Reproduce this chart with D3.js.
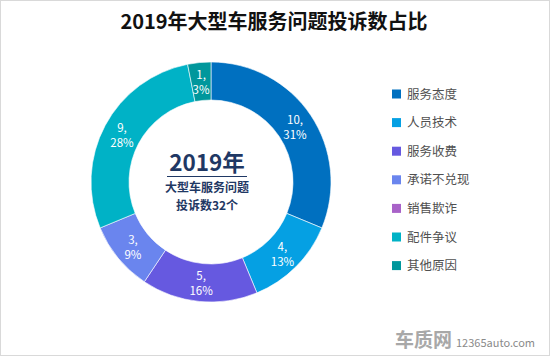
<!DOCTYPE html>
<html><head><meta charset="utf-8">
<script src="https://cdn.jsdelivr.net/npm/d3@7"></script>
<style>
html,body{margin:0;padding:0;background:#fff;}
svg{display:block;font-family:"Microsoft YaHei","Noto Sans CJK SC",sans-serif;}
</style></head><body>
<svg id="c" width="550" height="356"></svg>
<script>
const categories = ["服务态度","人员技术","服务收费","承诺不兑现","销售欺诈","配件争议","其他原因"];
const values = [10,4,5,3,0,9,1];
const percents = ["31%","13%","16%","9%","0%","28%","3%"];
const colors = ["#0070C0","#05A0E3","#6659E0","#6A85EE","#A862C8","#00B2C6","#00979C"];
const title = "2019年大型车服务问题投诉数占比";
const centerLines = ["2019年","大型车服务问题","投诉数32个"];

const svg = d3.select("#c");
svg.append("rect").attr("x",0.5).attr("y",0.5).attr("width",549).attr("height",355)
  .attr("fill","#fff").attr("stroke","#D9D9D9");

svg.append("text").attr("x",274).attr("y",29).attr("text-anchor","middle")
  .attr("font-size",20).attr("font-weight","bold").attr("fill","#111").text(title);

const cx = 211, cy = 182, R = 120, r = 82;
const g = svg.append("g").attr("transform",`translate(${cx},${cy})`);
const pie = d3.pie().sort(null).value(d=>d.v);
const data = categories.map((c,i)=>({c, v:values[i], p:percents[i], col:colors[i]}));
const arcs = pie(data);
const arc = d3.arc().innerRadius(r).outerRadius(R);
const labelArc = d3.arc().innerRadius((r+R)/2).outerRadius((r+R)/2);
g.selectAll("path").data(arcs.filter(a=>a.data.v>0)).join("path")
  .attr("d",arc).attr("fill",a=>a.data.col).attr("stroke","#fff").attr("stroke-width",0.6);
const lbl = g.selectAll("text.l").data(arcs.filter(a=>a.data.v>0)).join("text")
  .attr("class","l").attr("text-anchor","middle").attr("fill","#fff").attr("font-size",11.5)
  .attr("transform",a=>`translate(${labelArc.centroid(a)})`);
lbl.append("tspan").attr("x",0).attr("dy","-0.2em").text(a=>a.data.v+",");
lbl.append("tspan").attr("x",0).attr("dy","1.3em").text(a=>a.data.p);

// center text
const ct = svg.append("g").attr("text-anchor","middle").attr("font-weight","bold").attr("fill","#1F3864");
ct.append("text").attr("x",cx-4).attr("y",171).attr("font-size",22.5).text(centerLines[0]);
ct.append("text").attr("x",cx-4).attr("y",192).attr("font-size",12).text(centerLines[1]);
ct.append("text").attr("x",cx-4).attr("y",209.5).attr("font-size",12).text(centerLines[2]);
svg.append("line").attr("x1",167).attr("x2",247).attr("y1",176.5).attr("y2",176.5)
  .attr("stroke","#1F3864").attr("stroke-width",1);

// legend
const leg = svg.append("g").selectAll("g").data(data).join("g")
  .attr("transform",(d,i)=>`translate(392,${94+i*28.6})`);
leg.append("rect").attr("x",0).attr("y",-4.5).attr("width",9).attr("height",9).attr("fill",d=>d.col);
leg.append("text").attr("x",15).attr("y",4.5).attr("font-size",12.5).attr("fill","#505050").text(d=>d.c);

// watermark
const wm = svg.append("g");
wm.append("text").attr("x",395).attr("y",347).attr("font-size",19).attr("font-weight","bold")
  .attr("fill","#a8a8a8").text("车质网");
wm.append("text").attr("x",456).attr("y",347).attr("font-size",11).attr("fill","#8a8a8a").text("12365auto.com");
</script></body></html>
